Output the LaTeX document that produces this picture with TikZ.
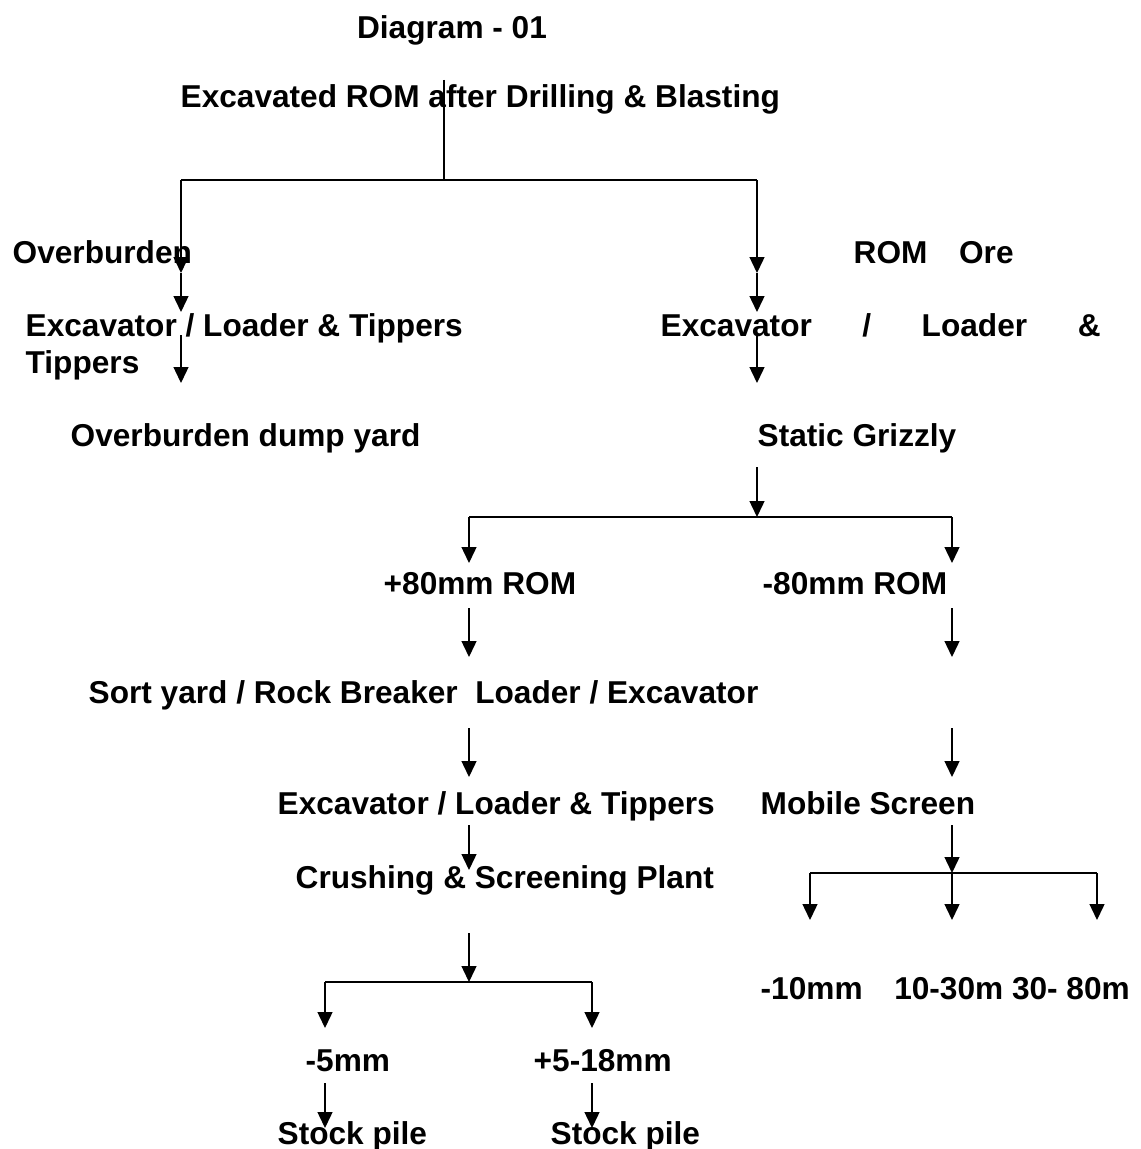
\documentclass[tikz,border=0pt]{standalone}
\usepackage{fontspec}
\setmainfont{Liberation Sans}
\usetikzlibrary{arrows.meta}

\begin{document}
\begin{tikzpicture}[x=0.02cm,y=-0.02cm,>={Triangle[length=0.32cm,width=0.3cm]},line width=0.8pt,font=\fontsize{18}{21}\selectfont\bfseries]
\tikzstyle{t}=[anchor=base west,inner sep=0pt,align=left]
\useasboundingbox (0,0) rectangle (1141,1149);
% texts
\node[anchor=base,inner sep=0pt] (title) at (452,39) {Diagram - 01};
\node[t] (rom) at (180,108) {Excavated ROM after Drilling \& Blasting};
\node[t] (ob) at (12,263) {Overburden};
\node[t] (ore) at (853,263) {ROM\quad Ore};
\node[t] (exl) at (25,373) {Excavator / Loader \& Tippers\\Tippers};
\node[t] (exr) at (660,336) {\makebox[8.8cm][s]{Excavator / Loader \&}};
\node[t] (dump) at (70,446) {Overburden dump yard};
\node[t] (griz) at (757,446) {Static Grizzly};
\node[t] (p80) at (383,594) {+80mm ROM};
\node[t] (m80) at (762,594) {-80mm ROM};
\node[t] (sort) at (88,703) {Sort yard / Rock Breaker\ \ Loader / Excavator};
\node[t] (exc) at (277,814) {Excavator / Loader \& Tippers};
\node[t] (mob) at (760,814) {Mobile Screen};
\node[t] (crush) at (295,888) {Crushing \& Screening Plant};
\node[t] (sizes) at (760,999) {-10mm\quad 10-30m 30- 80m};
\node[t] (m5) at (305,1071) {-5mm};
\node[t] (p5) at (533,1071) {+5-18mm};
\node[t] (st1) at (277,1144) {Stock pile};
\node[t] (st2) at (550,1144) {Stock pile};
% top split
\coordinate (s0) at (444,80);
\coordinate (s1) at (444,180);
\draw (s0) -- (s1);
\foreach \c/\x in {l/181,r/757} {
 \coordinate (\c a) at (\x,180);
 \coordinate (\c b) at (\x,273);
 \coordinate (\c c) at (\x,312);
 \coordinate (\c d) at (\x,335);
 \coordinate (\c e) at (\x,383);
 \draw[->] (\c a) -- (\c b); \draw[->] (\c b) -- (\c c); \draw[->] (\c d) -- (\c e);
}
\draw (la) -- (ra);
% grizzly split
\coordinate (g0) at (757,467);
\coordinate (g1) at (757,517);
\draw[->] (g0) -- (g1);
\foreach \c/\x in {p/469,m/952} {
 \coordinate (\c a) at (\x,517);
 \coordinate (\c b) at (\x,563);
 \coordinate (\c c) at (\x,608);
 \coordinate (\c d) at (\x,657);
 \coordinate (\c e) at (\x,728);
 \coordinate (\c f) at (\x,777);
 \coordinate (\c g) at (\x,825);
 \draw[->] (\c a) -- (\c b); \draw[->] (\c c) -- (\c d); \draw[->] (\c e) -- (\c f);
}
\draw (pa) -- (ma);
% crushing
\coordinate (pch) at (469,870);
\draw[->] (pg) -- (pch);
\coordinate (c0) at (469,933);
\coordinate (c1) at (469,982);
\draw[->] (c0) -- (c1);
\foreach \c/\x in {f/325,o/592} {
 \coordinate (\c a) at (\x,982);
 \coordinate (\c b) at (\x,1028);
 \coordinate (\c c) at (\x,1083);
 \coordinate (\c d) at (\x,1128);
 \draw[->] (\c a) -- (\c b); \draw[->] (\c c) -- (\c d);
}
\draw (fa) -- (oa);
% mobile screen
\coordinate (msh) at (952,873);
\draw[->] (mg) -- (msh);
\foreach \c/\x in {k/810,n/952,q/1097} {
 \coordinate (\c a) at (\x,873);
 \coordinate (\c b) at (\x,920);
 \draw[->] (\c a) -- (\c b);
}
\draw (ka) -- (qa);
\end{tikzpicture}
\end{document}
